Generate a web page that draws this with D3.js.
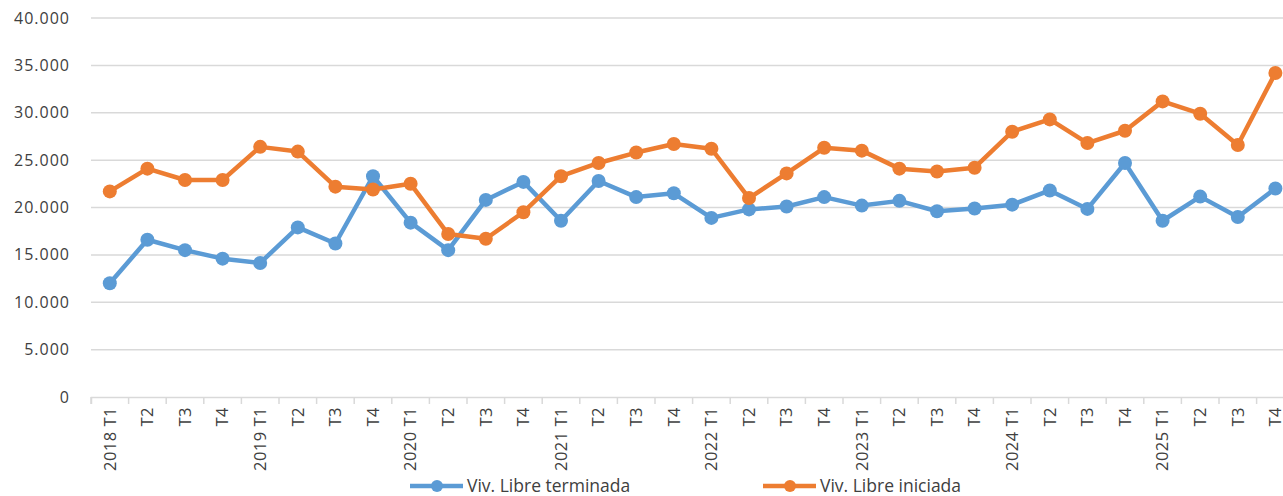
<!DOCTYPE html>
<html>
<head>
<meta charset="utf-8">
<script src="https://cdn.jsdelivr.net/npm/d3@7"></script>
<style>
	body { margin: 0; background: #fff; }
	svg { display: block; font-family: "Open Sans", sans-serif; }
	.grid line { stroke: #d9d9d9; stroke-width: 1.5; }
	.tick-label { fill: #404040; font-size: 16px; }
	.legend text { fill: #404040; font-size: 17.5px; }
</style>
</head>
<body>
<div class="chart"></div>
<script>
// categories: year + quarter
var categories = [
	'2018 T1', 'T2', 'T3', 'T4',
	'2019 T1', 'T2', 'T3', 'T4',
	'2020 T1', 'T2', 'T3', 'T4',
	'2021 T1', 'T2', 'T3', 'T4',
	'2022 T1', 'T2', 'T3', 'T4',
	'2023 T1', 'T2', 'T3', 'T4',
	'2024 T1', 'T2', 'T3', 'T4',
	'2025 T1', 'T2', 'T3', 'T4'
];
var terminada = [
	12000, 16600, 15500, 14600,
	14150, 17900, 16200, 23300,
	18400, 15500, 20800, 22700,
	18600, 22800, 21100, 21500,
	18900, 19800, 20100, 21100,
	20200, 20700, 19600, 19900,
	20300, 21800, 19850, 24700,
	18600, 21150, 19000, 22000
];
var iniciada = [
	21700, 24100, 22900, 22900,
	26400, 25900, 22200, 21900,
	22500, 17200, 16700, 19500,
	23300, 24700, 25800, 26700,
	26200, 21000, 23600, 26300,
	26000, 24100, 23800, 24200,
	28000, 29300, 26800, 28100,
	31200, 29900, 26600, 34200
];
var yTicks = [0, 5000, 10000, 15000, 20000, 25000, 30000, 35000, 40000];
var seriesNames = ['Viv. Libre terminada', 'Viv. Libre iniciada'];
var seriesColors = ['#5b9bd5', '#ed7d31'];

var width = 1283;
var height = 496;
var plotLeft = 91, plotTop = 18, plotBottom = 397;
var band = 37.6;

var svg = d3.select('.chart').append('svg')
	.attr('width', width)
	.attr('height', height);

var x = d3.scaleBand()
	.domain(d3.range(categories.length))
	.range([plotLeft, plotLeft + band * categories.length]);
var y = d3.scaleLinear()
	.domain([0, 40000])
	.range([plotBottom, plotTop]);

var fmt = function(d) {
	return d3.format(',')(d).replace(/,/g, '.');
};

// horizontal gridlines
var grid = svg.append('g').attr('class', 'grid');
grid.selectAll('line')
	.data(yTicks.filter(function(d) { return d > 0; }))
	.enter().append('line')
	.attr('x1', plotLeft)
	.attr('x2', width)
	.attr('y1', function(d) { return y(d); })
	.attr('y2', function(d) { return y(d); });

// y labels
svg.append('g').selectAll('text')
	.data(yTicks)
	.enter().append('text')
	.attr('class', 'tick-label')
	.attr('x', 70)
	.attr('y', function(d) { return y(d); })
	.attr('dy', '0.35em')
	.attr('text-anchor', 'end')
	.style('letter-spacing', '1px')
	.text(fmt);

// x axis
var xAxis = d3.axisBottom(x)
	.tickSize(7)
	.tickFormat(function(i) { return categories[i]; });
var gx = svg.append('g')
	.attr('transform', 'translate(0,' + plotBottom + ')')
	.call(xAxis);
gx.select('.domain').attr('stroke', '#d9d9d9').attr('stroke-width', 1.5);
gx.selectAll('.tick line')
	.attr('stroke', '#d9d9d9')
	.attr('stroke-width', 1.5)
	.attr('transform', 'translate(' + (-band / 2) + ',0)');
gx.selectAll('.tick text')
	.attr('class', 'tick-label')
	.attr('transform', 'rotate(-90)')
	.attr('x', -10)
	.attr('y', 0)
	.attr('dy', '0.35em')
	.attr('text-anchor', 'end')
	.style('font-family', '"Open Sans", sans-serif')
	.style('font-size', '16.5px')
	.style('letter-spacing', '0.5px');

// series
var line = d3.line()
	.x(function(d, i) { return x(i) + x.bandwidth() / 2; })
	.y(function(d) { return y(d); });

[terminada, iniciada].forEach(function(values, s) {
	var g = svg.append('g').attr('class', 'series series' + s);
	g.append('path')
		.datum(values)
		.attr('fill', 'none')
		.attr('stroke', seriesColors[s])
		.attr('stroke-width', 4.5)
		.attr('stroke-linejoin', 'round')
		.attr('d', line);
	g.selectAll('circle')
		.data(values)
		.enter().append('circle')
		.attr('cx', function(d, i) { return x(i) + x.bandwidth() / 2; })
		.attr('cy', function(d) { return y(d); })
		.attr('r', 7)
		.attr('fill', seriesColors[s]);
});

// legend
var legendX = [410, 763];
var legend = svg.append('g').attr('class', 'legend');
seriesNames.forEach(function(name, s) {
	var item = legend.append('g')
		.attr('transform', 'translate(' + legendX[s] + ',486)');
	item.append('line')
		.attr('x1', 0).attr('x2', 53)
		.attr('y1', 0).attr('y2', 0)
		.attr('stroke', seriesColors[s])
		.attr('stroke-width', 4.5);
	item.append('circle')
		.attr('cx', 27).attr('cy', 0).attr('r', 6)
		.attr('fill', seriesColors[s]);
	item.append('text')
		.attr('x', 57)
		.attr('y', 0)
		.attr('dy', '0.35em')
		.text(name);
});
</script>
</body>
</html>
